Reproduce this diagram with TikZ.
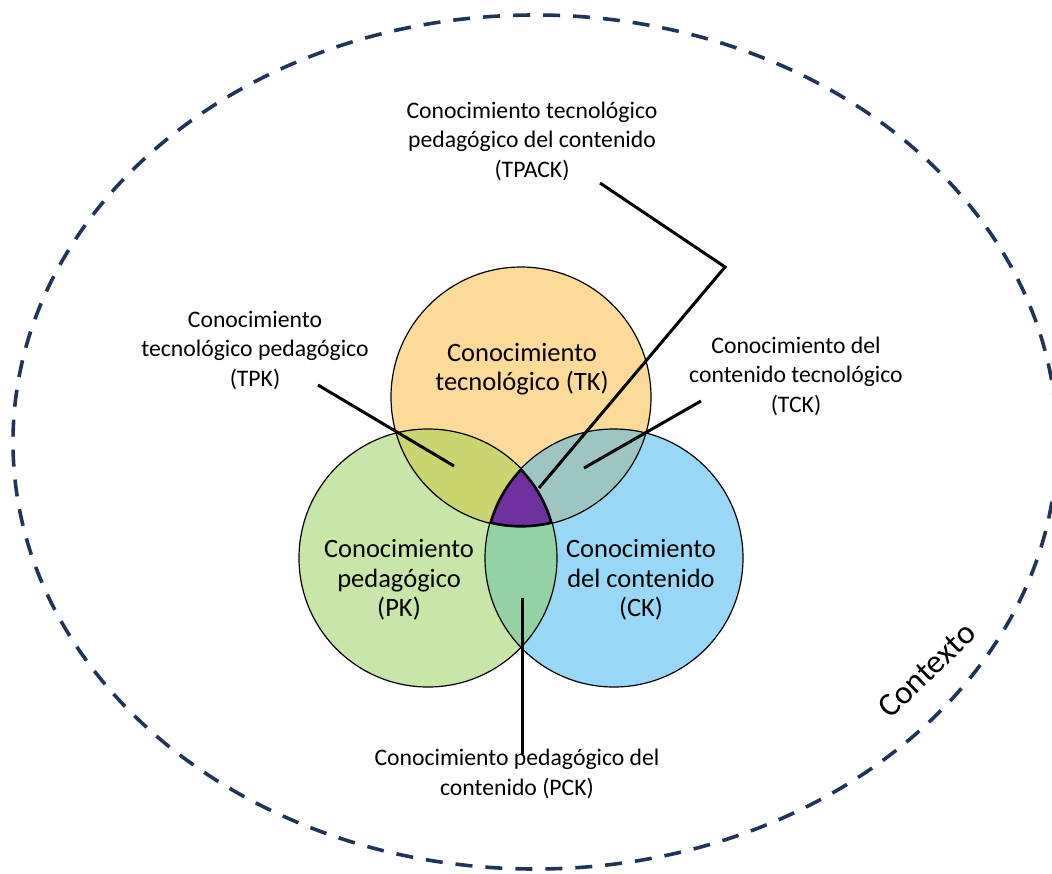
\documentclass[tikz,border=0pt]{standalone}
\usepackage{fontspec}
\setmainfont{Carlito}
\definecolor{tkfill}{HTML}{FDDA97}
\definecolor{pkfill}{HTML}{C9E6A9}
\definecolor{ckfill}{HTML}{98D8F6}
\definecolor{tpkfill}{HTML}{CBD570}
\definecolor{tckfill}{HTML}{9DC6C3}
\definecolor{pckfill}{HTML}{93D2A2}
\definecolor{tpackfill}{HTML}{7030A0}
\definecolor{ctxline}{HTML}{1F3557}
\begin{document}
\begin{tikzpicture}[x=1pt,y=-1pt,
  ring/.style={draw=black,line width=1.2pt},
  leader/.style={draw=black,line width=3pt},
  smalllabel/.style={align=center,inner sep=0pt,font=\fontsize{23.7}{29.5}\selectfont},
  biglabel/.style={align=center,inner sep=0pt,font=\fontsize{26.5}{29.5}\selectfont},
  context/.style={draw=ctxline,line width=3.6pt,dash pattern=on 17pt off 13pt}]
\useasboundingbox (0,0) rectangle (1052,873);

% context boundary
\path[context] (535,442) ellipse [x radius=522, y radius=427];
\node[rotate=44,inner sep=0pt,font=\fontsize{33}{36}\selectfont] (ctx) at (927,670) {Contexto};

% circle centres
\coordinate (cTK) at (521,397);
\coordinate (cPK) at (428,558);
\coordinate (cCK) at (614,558);
\def\rTK{130}
\def\rPK{129}
\def\rCK{129}

% base discs
\fill[tkfill] (cTK) circle [radius=\rTK];
\fill[pkfill] (cPK) circle [radius=\rPK];
\fill[ckfill] (cCK) circle [radius=\rCK];

% pairwise overlaps
\begin{scope}
  \clip (cTK) circle [radius=\rTK];
  \fill[tpkfill] (cPK) circle [radius=\rPK];
  \fill[tckfill] (cCK) circle [radius=\rCK];
\end{scope}
\begin{scope}
  \clip (cPK) circle [radius=\rPK];
  \fill[pckfill] (cCK) circle [radius=\rCK];
\end{scope}

% outlines
\draw[ring] (cTK) circle [radius=\rTK];
\draw[ring] (cPK) circle [radius=\rPK];
\draw[ring] (cCK) circle [radius=\rCK];

% triple overlap, with a heavier border kept inside the region
\begin{scope}
  \clip (cTK) circle [radius=\rTK];
  \clip (cPK) circle [radius=\rPK];
  \clip (cCK) circle [radius=\rCK];
  \fill[tpackfill] (cCK) circle [radius=\rCK];
  \draw[line width=4pt] (cTK) circle [radius=\rTK];
  \draw[line width=4pt] (cPK) circle [radius=\rPK];
  \draw[line width=4pt] (cCK) circle [radius=\rCK];
\end{scope}

% circle titles
\node[biglabel] (TK) at (522,369) {Conocimiento\\tecnológico (TK)};
\node[biglabel] (PK) at (399,580) {Conocimiento\\pedagógico\\(PK)};
\node[biglabel] (CK) at (641,580) {Conocimiento\\del contenido\\(CK)};

% outer labels
\node[smalllabel] (TPACK) at (532,141) {Conocimiento tecnológico\\pedagógico del contenido\\(TPACK)};
\node[smalllabel] (TPK) at (255,350) {Conocimiento\\tecnológico pedagógico\\(TPK)};
\node[smalllabel] (TCK) at (796,376) {Conocimiento del\\contenido tecnológico\\(TCK)};
\node[smalllabel] (PCK) at (517,774) {Conocimiento pedagógico del\\contenido (PCK)};

% leader line ends
\coordinate (tpackA) at (600,183);
\coordinate (tpackB) at (725,267);
\coordinate (tpackC) at (539,488);
\coordinate (tpkA) at (318,385);
\coordinate (tpkB) at (454,466);
\coordinate (tckA) at (701,401);
\coordinate (tckB) at (584,468);
\coordinate (pckA) at (522,598);
\coordinate (pckB) at (522,754);

\draw[leader] (tpackA) -- (tpackB) -- (tpackC);
\draw[leader] (tpkA) -- (tpkB);
\draw[leader] (tckA) -- (tckB);
\draw[leader] (pckA) -- (pckB);
\end{tikzpicture}
\end{document}
